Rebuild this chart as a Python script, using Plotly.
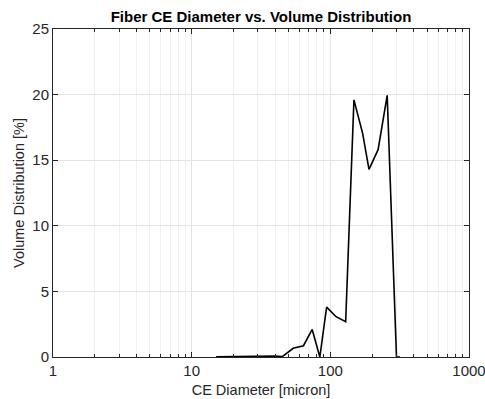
import plotly.graph_objects as go

diameter = [15, 20, 25, 30, 35, 40, 45, 54, 64, 74, 84, 94, 110, 129, 148, 171, 190, 221, 257, 300, 318]
volume = [0.02, 0.04, 0.06, 0.08, 0.09, 0.07, 0.03, 0.66, 0.86, 2.1, 0.0, 3.8, 3.07, 2.69, 19.6, 17.05, 14.3, 15.8, 19.95, 0.0, 0.0]

x_ticks = [1, 10, 100, 1000]
x_tick_labels = ["1", "10", "100", "1000"]
y_ticks = [0, 5, 10, 15, 20, 25]

fig = go.Figure()
fig.add_trace(go.Scatter(x=diameter, y=volume, mode="lines",
                         line=dict(color="black", width=1.6), showlegend=False))

axis_col = "#262626"
fig.update_layout(
    width=485, height=399,
    margin=dict(l=53, r=16, t=29, b=42, autoexpand=False),
    paper_bgcolor="white", plot_bgcolor="white",
    font=dict(family="Liberation Sans, Arial, sans-serif", color=axis_col),
    title=dict(text="<b>Fiber CE Diameter vs. Volume Distribution</b>",
               x=0.5, xanchor="center", xref="paper", y=1, yref="container",
               yanchor="top", pad=dict(t=11), font=dict(size=15, color="black")),
    xaxis=dict(type="log", range=[0, 3], tickvals=x_ticks, ticktext=x_tick_labels,
               automargin=False, ticklabeloverflow="allow",
               showgrid=True, gridcolor="#e3e3e3", gridwidth=1,
               minor=dict(dtick="D1", showgrid=True, gridcolor="#f0f0f0", ticks="inside",
                          ticklen=3, tickcolor=axis_col),
               ticks="inside", ticklen=5, tickcolor=axis_col,
               showline=True, linecolor=axis_col, linewidth=1, mirror="allticks",
               zeroline=False, tickfont=dict(size=15, color=axis_col),
               title=dict(text="CE Diameter [micron]", font=dict(size=14.5, color=axis_col), standoff=6)),
    yaxis=dict(range=[0, 25], tickvals=y_ticks, automargin=False,
               showgrid=True, gridcolor="#e3e3e3", gridwidth=1,
               ticks="inside", ticklen=5, tickcolor=axis_col,
               showline=True, linecolor=axis_col, linewidth=1, mirror="allticks",
               zeroline=False, tickfont=dict(size=15, color=axis_col),
               title=dict(text="Volume Distribution [%]", font=dict(size=14.5, color=axis_col), standoff=4)),
)

fig.write_html("out.html")
